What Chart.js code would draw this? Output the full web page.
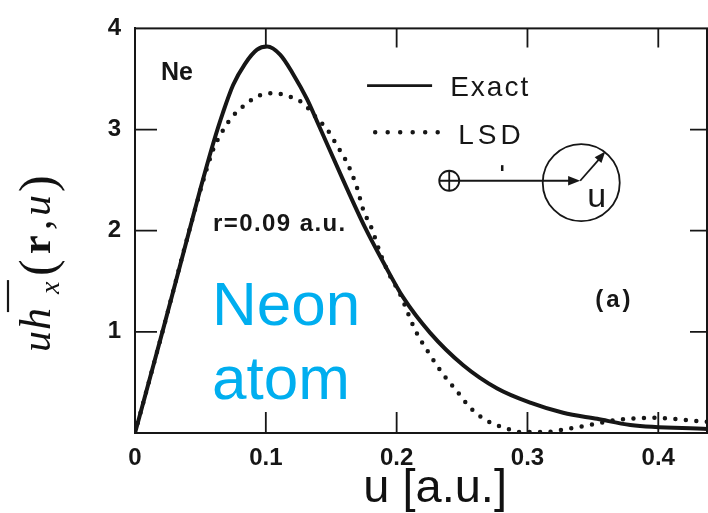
<!DOCTYPE html>
<html>
<head>
<meta charset="utf-8">
<script src="https://cdn.jsdelivr.net/npm/chart.js@4.4.1/dist/chart.umd.min.js"></script>
<style>
  html, body { margin: 0; padding: 0; background: #fff; }
  #wrap { width: 708px; height: 513px; }
</style>
</head>
<body>
<div id="wrap"><canvas id="chart" width="708" height="513"></canvas></div>
<script>
// values (u in a.u.)
const exactU = [0, 0.0214, 0.0421, 0.0497, 0.0597, 0.0673, 0.0750, 0.0841, 0.0933, 0.1010, 0.1109, 0.1208, 0.1315, 0.1392, 0.1591, 0.1759, 0.1897, 0.2050, 0.2256, 0.2509, 0.2769, 0.3021, 0.3273, 0.3533, 0.3786, 0.4382];
const exactY = [0, 1.02, 2.03, 2.40, 2.86, 3.17, 3.44, 3.65, 3.79, 3.82, 3.74, 3.55, 3.30, 3.08, 2.50, 2.03, 1.69, 1.34, 0.99, 0.67, 0.44, 0.30, 0.20, 0.14, 0.08, 0.04];

const lsdU = [0, 0.0214, 0.0421, 0.0597, 0.0650, 0.0727, 0.0818, 0.0956, 0.1056, 0.1147, 0.1285, 0.1377, 0.1469, 0.1545, 0.1629, 0.1698, 0.1744, 0.1813, 0.1874, 0.1935, 0.2027, 0.2141, 0.2256, 0.2356, 0.2463, 0.2562, 0.2692, 0.2830, 0.2945, 0.3136, 0.3304, 0.3480, 0.3686, 0.3992, 0.4191, 0.4382];
const lsdY = [0, 1.02, 2.03, 2.80, 2.94, 3.10, 3.22, 3.34, 3.36, 3.34, 3.26, 3.13, 3.00, 2.84, 2.65, 2.42, 2.21, 2.01, 1.78, 1.59, 1.37, 1.02, 0.77, 0.58, 0.41, 0.25, 0.12, 0.05, 0.01, 0.01, 0.04, 0.08, 0.13, 0.15, 0.13, 0.11];

const xTicks = [0, 0.1, 0.2, 0.3, 0.4];
const xTickLabels = ["0", "0.1", "0.2", "0.3", "0.4"];
const yTicks = [1, 2, 3, 4];
const seriesNames = ["Exact", "LSD"];

const ink = "#161616";
const sans = '"Liberation Sans", Arial, sans-serif';
const serif = '"Liberation Serif", "Times New Roman", serif';

function toPoints(us, vs) {
  return us.map((u, i) => ({ x: u, y: vs[i] }));
}

function text(ctx, str, x, y, font, spacing, color) {
  ctx.font = font;
  ctx.letterSpacing = (spacing || 0) + "px";
  ctx.fillStyle = color || ink;
  ctx.fillText(str, x, y);
  ctx.letterSpacing = "0px";
}

function arrowHead(ctx, x0, y0, x1, y1, len) {
  const a = Math.atan2(y1 - y0, x1 - x0);
  ctx.beginPath();
  ctx.moveTo(x1, y1);
  ctx.lineTo(x1 - len * Math.cos(a - 0.38), y1 - len * Math.sin(a - 0.38));
  ctx.lineTo(x1 - len * Math.cos(a + 0.38), y1 - len * Math.sin(a + 0.38));
  ctx.closePath();
  ctx.fill();
}

const decor = {
  id: "decor",
  afterDatasetsDraw(chart) {
    const { ctx, chartArea: area, scales: { x, y } } = chart;
    const px = (u) => x.getPixelForValue(u);
    const py = (v) => y.getPixelForValue(v);
    ctx.save();
    ctx.strokeStyle = ink;
    ctx.fillStyle = ink;

    // frame
    ctx.lineWidth = 2;
    ctx.strokeRect(area.left, area.top, area.right - area.left - 1, area.bottom - area.top);

    // inward tick marks
    ctx.lineWidth = 1.8;
    ctx.beginPath();
    yTicks.slice(0, 3).forEach((v) => {
      ctx.moveTo(area.left, py(v)); ctx.lineTo(area.left + 22, py(v));
      ctx.moveTo(area.right, py(v)); ctx.lineTo(area.right - 18, py(v));
    });
    xTicks.slice(1).forEach((u) => {
      ctx.moveTo(px(u), area.bottom); ctx.lineTo(px(u), area.bottom - 21);
      ctx.moveTo(px(u), area.top); ctx.lineTo(px(u), area.top + 19);
    });
    ctx.stroke();

    // legend
    ctx.lineWidth = 2.6;
    ctx.beginPath();
    ctx.moveTo(px(0.1774), py(3.434)); ctx.lineTo(px(0.2271), py(3.434));
    ctx.stroke();
    text(ctx, seriesNames[0], px(0.2409), py(3.329), "28px " + sans, 2);
    ctx.lineWidth = 4.5;
    ctx.lineCap = "round";
    ctx.setLineDash([0, 12.5]);
    ctx.beginPath();
    ctx.moveTo(px(0.1836), py(2.974)); ctx.lineTo(px(0.2333), py(2.974));
    ctx.stroke();
    ctx.setLineDash([]);
    ctx.lineCap = "butt";
    text(ctx, seriesNames[1], px(0.2470), py(2.859), "28px " + sans, 4);

    // sketch: nucleus, r vector and sphere of radius u
    const nx = px(0.2402), ny = py(2.494);
    const cx = px(0.3411), cy = py(2.475);
    ctx.lineWidth = 1.8;
    ctx.beginPath(); ctx.arc(nx, ny, 10, 0, Math.PI * 2); ctx.stroke();
    ctx.beginPath();
    ctx.moveTo(nx - 10, ny); ctx.lineTo(nx + 10, ny);
    ctx.moveTo(nx, ny - 10); ctx.lineTo(nx, ny + 10);
    ctx.moveTo(nx + 10, ny); ctx.lineTo(px(0.3403) - 6, ny);
    ctx.stroke();
    arrowHead(ctx, nx, ny, px(0.3403), ny, 13);
    ctx.beginPath(); ctx.arc(cx, cy, 38.5, 0, Math.PI * 2); ctx.stroke();
    const ax = px(0.3595), ay = py(2.782);
    ctx.beginPath(); ctx.moveTo(px(0.3403), ny); ctx.lineTo(ax - 3, ay + 4); ctx.stroke();
    arrowHead(ctx, px(0.3403), ny, ax, ay, 12);
    ctx.lineWidth = 2.5;
    ctx.beginPath(); ctx.moveTo(px(0.2807), py(2.648)); ctx.lineTo(px(0.2807), py(2.59)); ctx.stroke();
    text(ctx, "u", px(0.3457), py(2.235), "34px " + sans, 0);

    // labels inside the plot
    text(ctx, "Ne", px(0.0199), py(3.49), "bold 25px " + sans, 0);
    text(ctx, "r=0.09 a.u.", px(0.0597), py(1.995), "bold 24px " + sans, 1.4);
    text(ctx, "(a)", px(0.3518), py(1.247), "bold 24px " + sans, 3);
    text(ctx, "Neon", px(0.0589), py(1.065), "62px " + sans, 0, "#00AEEF");
    text(ctx, "atom", px(0.0589), py(0.336), "62px " + sans, 0, "#00AEEF");

    // x axis title
    ctx.textAlign = "center";
    text(ctx, "u [a.u.]", px(0.2294), chart.height - 11, "47px " + sans, 0, "#111");
    ctx.textAlign = "left";

    // y axis title, rotated: u \bar{h}_x(r, u) -- glyph offsets along the text line
    ctx.translate(area.left - 85, py(0.8));
    ctx.rotate(-Math.PI / 2);
    const glyph = (s, at, font, dy) => {
      ctx.font = font;
      ctx.fillText(s, at, dy || 0);
    };
    glyph("u", 0, "italic 42px " + serif);
    glyph("h", 22, "italic 44px " + serif);
    ctx.lineWidth = 2.2;
    ctx.beginPath(); ctx.moveTo(40, -42); ctx.lineTo(72, -42); ctx.stroke();
    glyph("x", 58, "italic 28px " + serif, 9);
    glyph("(", 76, "50px " + serif, 4);
    glyph("r", 98, "bold 42px " + serif);
    glyph(",", 122, "42px " + serif);
    glyph("u", 136, "italic 42px " + serif);
    glyph(")", 160, "50px " + serif, 4);
    ctx.restore();
  }
};

new Chart(document.getElementById("chart"), {
  type: "line",
  data: {
    datasets: [
      {
        label: seriesNames[0],
        data: toPoints(exactU, exactY),
        borderColor: ink,
        borderWidth: 4,
        pointRadius: 0,
        fill: false,
        cubicInterpolationMode: "monotone",
      },
      {
        label: seriesNames[1],
        data: toPoints(lsdU, lsdY),
        borderColor: ink,
        borderWidth: 4.5,
        borderDash: [0, 10.5],
        borderCapStyle: "round",
        pointRadius: 0,
        fill: false,
        cubicInterpolationMode: "monotone",
      },
    ],
  },
  options: {
    responsive: false,
    devicePixelRatio: 1,
    animation: false,
    layout: { padding: { top: 16, left: 0, right: 0, bottom: 0 } },
    plugins: { legend: { display: false }, tooltip: { enabled: false } },
    scales: {
      x: {
        type: "linear",
        min: 0,
        max: 0.438,
        afterBuildTicks: (s) => { s.ticks = xTicks.map((v) => ({ value: v })); },
        afterFit: (s) => { s.height = 80; },
        ticks: {
          callback: (v, i) => xTickLabels[i],
          font: { family: sans, size: 24, weight: "bold" },
          color: ink,
          padding: 11,
          maxRotation: 0,
          autoSkip: false,
        },
        grid: { display: false, drawTicks: false },
        border: { color: ink, width: 2 },
      },
      y: {
        type: "linear",
        min: 0,
        max: 4,
        afterBuildTicks: (s) => { s.ticks = yTicks.map((v) => ({ value: v })); },
        afterFit: (s) => { s.width = 135; },
        ticks: {
          font: { family: sans, size: 24, weight: "bold" },
          color: ink,
          padding: 14,
        },
        grid: { display: false, drawTicks: false },
        border: { color: ink, width: 2 },
      },
    },
  },
  plugins: [decor],
});
</script>
</body>
</html>
